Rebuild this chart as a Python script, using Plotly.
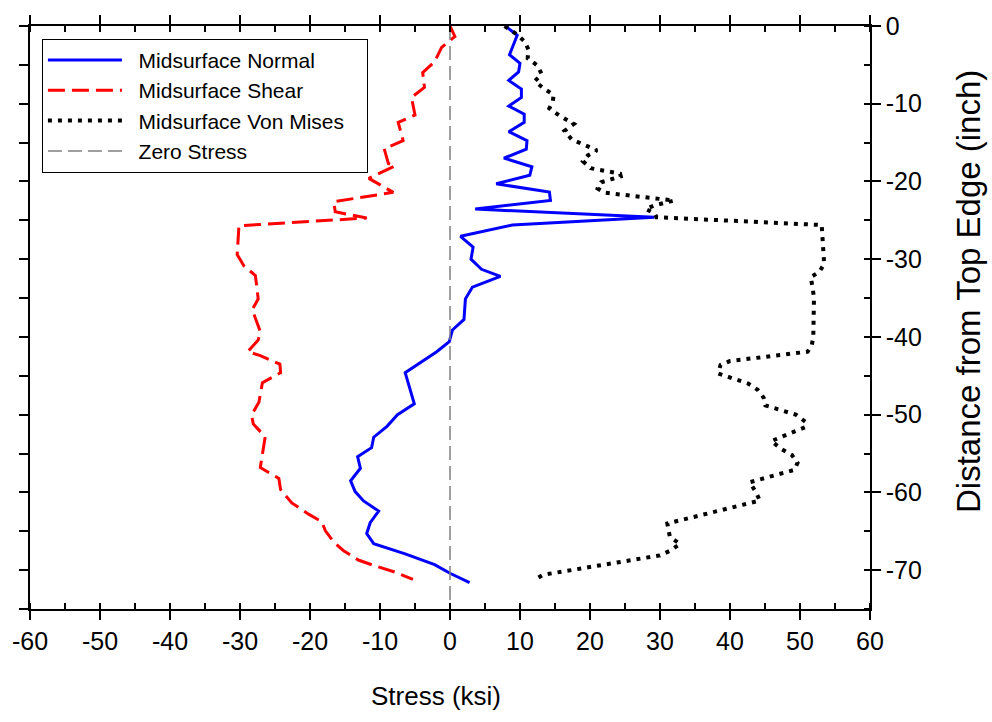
import plotly.graph_objects as go

# Midsurface normal stress along the edge (depth in inch, stress in ksi)
normal_depth = [0.0, -1.2, -3.7, -4.8, -5.9, -7.0, -8.1, -9.2, -10.3, -11.35, -12.4, -13.6,
                -14.75, -15.85, -17.0, -18.1, -19.2, -20.3, -21.35, -22.45, -23.55, -24.6,
                -25.6, -27.05, -28.45, -30.0, -31.3, -32.2, -33.6, -35.1, -37.75, -39.1,
                -40.6, -41.9, -44.6, -48.6, -50.0, -51.5, -52.9, -54.25, -55.4, -56.9,
                -58.5, -59.9, -61.1, -62.4, -63.9, -65.3, -66.6, -67.9, -69.3, -70.4, -71.6]
normal_stress = [7.9, 9.6, 8.5, 10.0, 9.8, 8.4, 10.2, 10.2, 8.4, 10.6, 10.6, 8.4,
                 11.0, 10.9, 7.7, 11.7, 11.4, 6.6, 14.2, 14.35, 3.6, 29.2,
                 8.9, 1.5, 3.3, 3.0, 4.5, 7.2, 3.2, 2.2, 2.0, 0.35,
                 -0.1, -1.9, -6.4, -5.1, -7.5, -9.0, -10.9, -11.2, -13.2, -12.8,
                 -14.2, -13.55, -12.35, -10.2, -11.4, -11.9, -10.9, -6.4, -2.2, 0.0, 2.8]

# Midsurface shear stress
shear_depth = [0.0, -1.35, -2.75, -4.6, -6.0, -7.9, -9.2, -11.45, -12.4, -14.75, -15.8,
               -17.7, -18.0, -19.6, -21.4, -22.6, -23.9, -24.7, -25.7, -29.4, -30.85,
               -32.1, -35.1, -36.5, -39.3, -40.4, -41.9, -42.4, -43.5, -44.6, -45.9,
               -48.4, -50.05, -51.2, -52.85, -56.8, -58.2, -59.65, -61.35, -62.8, -63.8,
               -64.95, -66.4, -67.5, -68.7, -69.4, -70.25, -71.2]
shear_stress = [0.0, 0.7, -1.2, -2.2, -3.9, -3.65, -5.5, -5.0, -7.4, -6.7, -9.4,
                -8.8, -7.85, -11.6, -8.1, -16.6, -16.4, -11.9, -30.15, -30.4, -29.45,
                -27.8, -27.4, -28.25, -27.1, -27.4, -28.9, -27.1, -24.3, -24.2, -26.8,
                -27.3, -28.35, -28.1, -26.4, -27.1, -24.45, -24.2, -22.6, -20.2, -18.3,
                -17.8, -16.6, -15.2, -13.1, -10.9, -7.85, -5.3]

# Midsurface von Mises stress
mises_depth = [0.0, -1.1, -2.0, -3.0, -4.15, -5.1, -6.2, -7.1, -8.1, -8.85, -9.65, -10.6,
               -11.5, -12.6, -13.5, -14.6, -16.0, -16.65, -17.4, -18.3, -19.0, -19.35,
               -20.1, -20.9, -21.45, -22.45, -23.1, -23.55, -24.1, -24.6, -25.6, -30.6,
               -31.6, -32.3, -34.9, -39.9, -41.0, -41.9, -43.1, -43.6, -44.7, -46.0,
               -46.8, -47.8, -48.8, -50.0, -50.9, -51.6, -53.4, -54.45, -55.2, -56.2,
               -57.1, -58.7, -59.95, -61.05, -64.0, -65.7, -66.65, -67.5, -68.1, -70.6, -71.2]
mises_stress = [7.8, 9.6, 10.65, 11.2, 11.1, 12.5, 13.1, 12.1, 13.5, 14.8, 14.7, 14.2,
                15.6, 17.7, 16.35, 17.4, 21.0, 19.7, 19.0, 20.1, 24.3, 24.4,
                21.6, 21.1, 22.1, 32.0, 29.15, 27.95, 29.2, 29.5, 53.1, 53.45,
                52.8, 51.55, 52.0, 51.9, 51.7, 51.1, 40.0, 38.65, 38.3, 42.6,
                43.95, 44.8, 45.05, 49.4, 50.75, 50.75, 45.9, 47.4, 48.85, 49.65,
                49.2, 42.8, 43.7, 44.25, 31.05, 31.4, 32.85, 31.45, 30.0, 13.3, 12.2]

# Reference line at zero stress
zero_stress = [0.0, 0.0]
zero_depth = [0.0, -75.0]

# Axis ranges and tick labels (plain hyphen minus signs)
x_range = [-60, 60]
y_range = [-75, 0]
x_tickvals = [-60, -50, -40, -30, -20, -10, 0, 10, 20, 30, 40, 50, 60]
x_ticktext = ["-60", "-50", "-40", "-30", "-20", "-10", "0", "10", "20", "30", "40", "50", "60"]
y_tickvals = [0, -10, -20, -30, -40, -50, -60, -70]
y_ticktext = ["0", "-10", "-20", "-30", "-40", "-50", "-60", "-70"]
x_title = "Stress (ksi)"
y_title = "Distance from Top Edge (inch)"

FONT = "Liberation Sans, Arial, sans-serif"
LEAD = "\u00a0\u00a0"       # gap between legend sample and label
TRAIL = "\u00a0\u00a0\u00a0"  # right-hand padding inside the legend box

fig = go.Figure()
fig.add_trace(go.Scatter(x=normal_stress, y=normal_depth, mode="lines",
                         name=LEAD + "Midsurface Normal" + TRAIL,
                         line=dict(color="#0000FF", width=3)))
fig.add_trace(go.Scatter(x=shear_stress, y=shear_depth, mode="lines",
                         name=LEAD + "Midsurface Shear" + TRAIL,
                         line=dict(color="#FF0000", width=3, dash="17px,7px")))
fig.add_trace(go.Scatter(x=mises_stress, y=mises_depth, mode="lines",
                         name=LEAD + "Midsurface Von Mises" + TRAIL,
                         line=dict(color="#000000", width=4, dash="4px,6px")))
fig.add_trace(go.Scatter(x=zero_stress, y=zero_depth, mode="lines",
                         name=LEAD + "Zero Stress" + TRAIL, xaxis="x2", yaxis="y2",
                         line=dict(color="#808080", width=1.5, dash="14px,6px")))

line_style = dict(showgrid=False, zeroline=False, showline=True,
                  linecolor="black", linewidth=1.5,
                  tickcolor="black", tickwidth=1.5, ticklen=9, ticks="outside")
# major ticks outside, minor ticks inside
axis_common = dict(line_style,
                   minor=dict(ticks="inside", dtick=5, ticklen=6,
                              tickcolor="black", tickwidth=1.5))

fig.update_layout(
    width=992, height=722,
    margin=dict(l=27, r=122, t=19, b=113),
    paper_bgcolor="white", plot_bgcolor="white",
    font=dict(family=FONT, color="black", size=20),
    showlegend=True,
    legend=dict(x=0.0142, y=0.978, xanchor="left", yanchor="top",
                bgcolor="white", bordercolor="black", borderwidth=1,
                font=dict(size=21, family=FONT), itemwidth=74,
                tracegroupgap=0),
    xaxis=dict(range=x_range, side="bottom", tickmode="array",
               tickvals=x_tickvals, ticktext=x_ticktext,
               tickfont=dict(size=25), **axis_common),
    xaxis2=dict(range=x_range, side="top", overlaying="x", tickmode="array",
                tickvals=x_tickvals, showticklabels=False, **axis_common),
    # unlabeled left axis: every 5 inch, all ticks outside
    yaxis=dict(range=y_range, side="left", tickmode="linear", tick0=0, dtick=5,
               showticklabels=False, **line_style),
    yaxis2=dict(range=y_range, side="right", overlaying="y", tickmode="array",
                tickvals=y_tickvals, ticktext=y_ticktext,
                tickfont=dict(size=25), **axis_common),
    annotations=[
        dict(text=x_title, xref="paper", yref="paper", x=0.4834, y=-0.149,
             xanchor="center", yanchor="middle", showarrow=False,
             font=dict(size=26, family=FONT)),
        dict(text=y_title, xref="paper", yref="paper", x=1.1175, y=0.545,
             xanchor="center", yanchor="middle", showarrow=False, textangle=-90,
             font=dict(size=33, family=FONT)),
    ],
)

fig.write_html("out.html")
